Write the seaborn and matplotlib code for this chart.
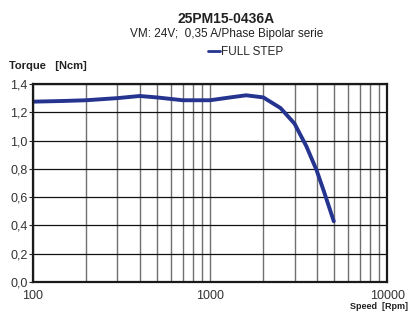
import numpy as np
import pandas as pd
import seaborn as sns
import matplotlib.pyplot as plt
from matplotlib.ticker import FixedLocator, FuncFormatter, NullFormatter

# data
speed = [100, 150, 200, 300, 400, 500, 700, 1000, 1300, 1600, 2000, 2500, 3000, 3500, 4000, 4400, 5000]
torque = [1.275, 1.28, 1.285, 1.30, 1.315, 1.305, 1.285, 1.285, 1.305, 1.32, 1.305, 1.23, 1.12, 0.96, 0.79, 0.64, 0.43]
yticks = [0.0, 0.2, 0.4, 0.6, 0.8, 1.0, 1.2, 1.4]
xticks = [100, 1000, 10000]

df = pd.DataFrame({"speed": speed, "torque": torque})

sns.set_style("white")
plt.rcParams['font.family'] = ['Liberation Sans', 'DejaVu Sans']

fig = plt.figure(figsize=(4.18, 3.11), dpi=100)
ax = fig.add_axes([0.079, 0.093, 0.847, 0.637])

sns.lineplot(data=df, x="speed", y="torque", ax=ax, color="#24348f", lw=2.8, label="FULL STEP", legend=False)
ax.set_xscale("log")
ax.set_xlim(100, 10000)
ax.set_ylim(0, 1.4)

# grid
minors = [m * 10 ** e for e in (2, 3) for m in range(2, 10)]
ax.xaxis.set_minor_locator(FixedLocator(minors))
ax.xaxis.set_minor_formatter(NullFormatter())
ax.set_xticks(xticks)
ax.xaxis.set_major_formatter(FuncFormatter(lambda v, p: f"{int(v)}"))
ax.set_yticks(yticks)
ax.yaxis.set_major_formatter(FuncFormatter(lambda v, p: f"{v:.1f}".replace(".", ",")))
ax.grid(True, which="major", axis="y", color="#111111", lw=0.9)
ax.grid(True, which="both", axis="x", color="#707070", lw=1.0)
ax.set_axisbelow(True)
for s in ax.spines.values():
    s.set_color("#1a1a1a")
    s.set_linewidth(1.6)

ax.tick_params(axis="y", which="major", left=True, length=3, width=0.8, pad=1, labelsize=9, labelcolor="#333333")
ax.tick_params(axis="x", which="both", bottom=False, pad=2, labelsize=9, labelcolor="#333333")
ax.set_xlabel("")
ax.set_ylabel("")

handles, labels = ax.get_legend_handles_labels()
leg = fig.legend(handles, labels, loc="center", bbox_to_anchor=(0.587, 0.833), frameon=False,
                 handlelength=1.0, handletextpad=0.1, fontsize=8.5, borderaxespad=0, borderpad=0)
for h in leg.get_lines():
    h.set_linewidth(2.0)

fig.text(0.541, 0.939, "25PM15-0436A", ha="center", va="center", fontsize=10, fontweight="bold", color="#222222")
fig.text(0.541, 0.891, "VM: 24V;  0,35 A/Phase Bipolar serie", ha="center", va="center", fontsize=8.5, color="#222222")
fig.text(0.022, 0.788, "Torque   [Ncm]", ha="left", va="center", fontsize=8, fontweight="bold", color="#222222")
fig.text(0.838, 0.016, "Speed  [Rpm]", ha="left", va="center", fontsize=6.5, fontweight="bold", color="#222222")

fig.savefig("out.png", dpi=100)
